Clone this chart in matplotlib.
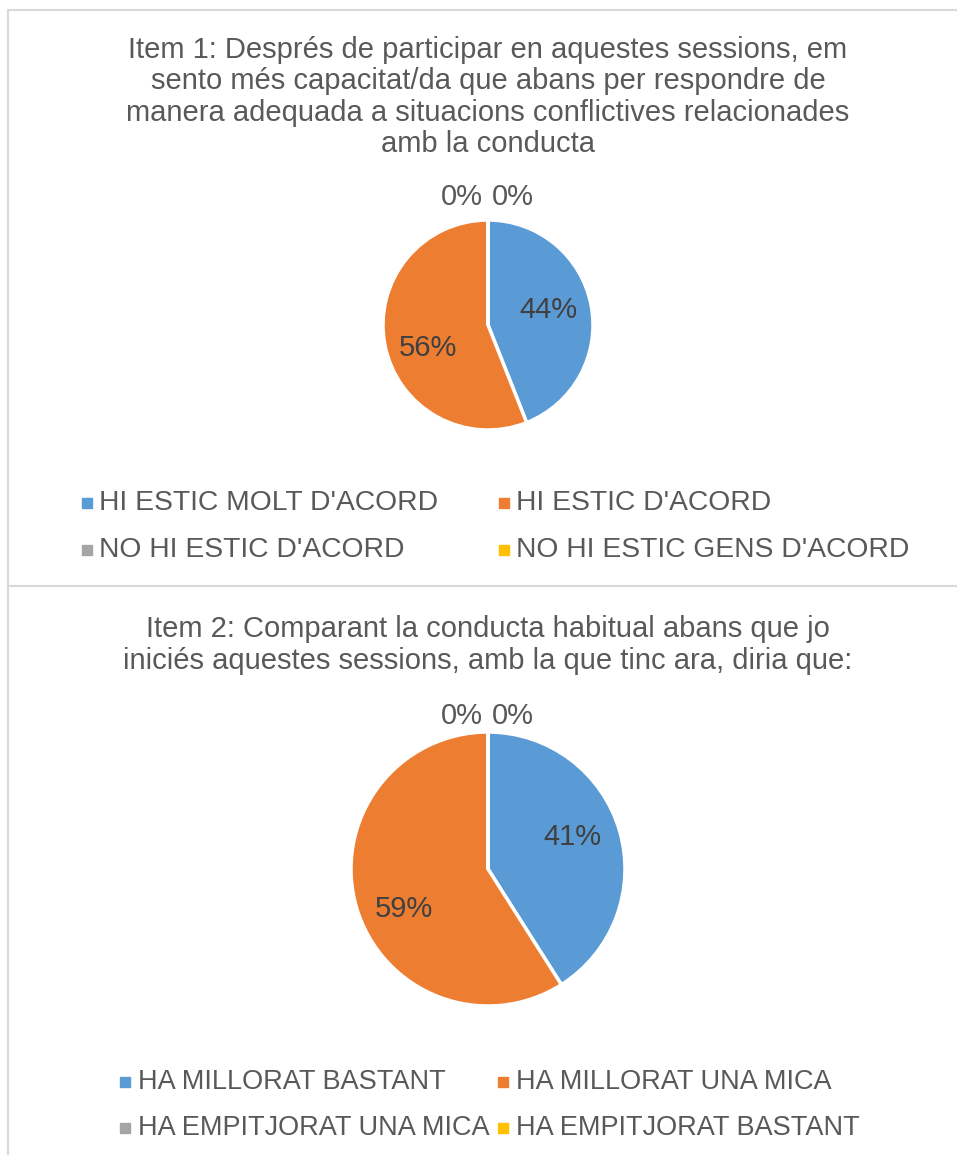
import math
import matplotlib.pyplot as plt
from matplotlib.patches import Rectangle
from matplotlib.lines import Line2D

plt.rcParams["font.family"] = ["Liberation Sans", "DejaVu Sans"]

# data
title1 = ("Item 1: Després de participar en aquestes sessions, em\n"
          "sento més capacitat/da que abans per respondre de\n"
          "manera adequada a situacions conflictives relacionades\n"
          "amb la conducta")
labels1 = ["HI ESTIC MOLT D'ACORD", "HI ESTIC D'ACORD",
           "NO HI ESTIC D'ACORD", "NO HI ESTIC GENS D'ACORD"]
values1 = [44, 56, 0, 0]

title2 = ("Item 2: Comparant la conducta habitual abans que jo\n"
          "iniciés aquestes sessions, amb la que tinc ara, diria que:")
labels2 = ["HA MILLORAT BASTANT", "HA MILLORAT UNA MICA",
           "HA EMPITJORAT UNA MICA", "HA EMPITJORAT BASTANT"]
values2 = [41, 59, 0, 0]

colors = ["#5B9BD5", "#ED7D31", "#A5A5A5", "#FFC000"]
text_col = "#595959"
lbl_col = "#404040"

W, H = 957, 1155
fig = plt.figure(figsize=(W / 100, H / 100), dpi=100)


def fx(x):
    return x / W


def fy(y):
    return 1 - y / H


# chart borders
border = "#D9D9D9"
fig.add_artist(Line2D([fx(8), 1], [fy(10), fy(10)], color=border, lw=1.5))
fig.add_artist(Line2D([fx(8), fx(8)], [fy(10), 0], color=border, lw=1.5))
fig.add_artist(Line2D([fx(8), 1], [fy(586), fy(586)], color=border, lw=1.5))


def draw_pie(cx, cy, r, values, pctdist, zero_dy):
    pad = 1.4
    side = 2 * r * pad
    ax = fig.add_axes([fx(cx - side / 2), fy(cy + side / 2), side / W, side / H])
    ax.pie(values, colors=colors, startangle=90, counterclock=False,
           wedgeprops=dict(edgecolor="white", linewidth=2.5))
    ax.set_xlim(-pad, pad)
    ax.set_ylim(-pad, pad)
    ax.set_aspect("equal")
    ax.axis("off")
    # percentage labels (Excel nudges them a little counter-clockwise / down)
    total = sum(values)
    start = 90.0
    zeros = [i for i, v in enumerate(values) if v == 0]
    for i, v in enumerate(values):
        sweep = 360.0 * v / total
        if v > 0:
            mid = math.radians(start - sweep / 2 + 7)
            ax.annotate(f"{v}%", xy=(pctdist * math.cos(mid), pctdist * math.sin(mid)),
                        xytext=(0, -4), textcoords="offset pixels",
                        ha="center", va="center", fontsize=21, color=lbl_col)
        start -= sweep
    for k, i in enumerate(zeros):
        off = (k - (len(zeros) - 1) / 2) * 51 - 1
        ax.annotate(f"{values[i]}%", xy=(0, 1), xytext=(off, zero_dy),
                    textcoords="offset pixels", ha="center", va="center",
                    fontsize=21, color=text_col)
    return ax


def draw_legend(labels, cols, rows, size):
    for j, lab in enumerate(labels):
        mx, tx = cols[j % 2]
        y = rows[j // 2]
        fig.add_artist(Rectangle((fx(mx), fy(y + 5)), 10 / W, 10 / H,
                                 transform=fig.transFigure, color=colors[j]))
        fig.text(fx(tx), fy(y), lab, ha="left", va="center",
                 fontsize=size, color=text_col)


# top chart
fig.text(fx(488), fy(97), title1, ha="center", va="center", fontsize=21,
         color=text_col, linespacing=1.15)
draw_pie(488, 325, 105, values1, 0.6, 23)
draw_legend(labels1, [(82, 99), (499, 516)], [503, 550], 20.3)

# bottom chart
fig.text(fx(488), fy(645), title2, ha="center", va="center", fontsize=21,
         color=text_col, linespacing=1.15)
draw_pie(488, 869, 137, values2, 0.67, 16)
draw_legend(labels2, [(120, 138), (498, 516)], [1082, 1128], 19.5)

fig.savefig("out.png", dpi=100, facecolor="white")
